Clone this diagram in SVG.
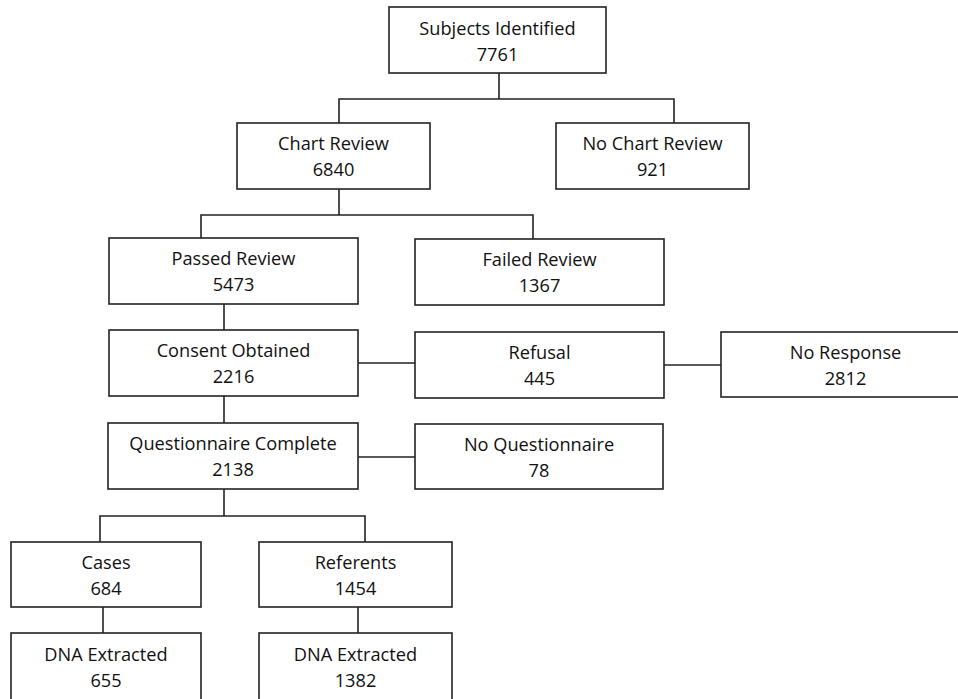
<svg xmlns="http://www.w3.org/2000/svg" width="958" height="699" viewBox="0 0 958 699">
<style>
.box{fill:#fff;stroke:#222;stroke-width:1.6}
.t{font-family:"Open Sans","Liberation Sans",sans-serif;font-size:18.2px;fill:#111;text-anchor:middle}
.c{fill:none;stroke:#222;stroke-width:1.6}
</style>
<rect width="958" height="699" fill="#fff"/>
<g id="connectors">
<path class="c" d="M499,73V99M339,123V99H674V123"/>
<path class="c" d="M339,189V215M201,238V215H533V239"/>
<path class="c" d="M224,304V330"/>
<path class="c" d="M358,363H415"/>
<path class="c" d="M664,365H721"/>
<path class="c" d="M224,396V423"/>
<path class="c" d="M358,457H415"/>
<path class="c" d="M224,489V516M100,542V516H365V542"/>
<path class="c" d="M103,607V633"/>
<path class="c" d="M358,607V633"/>
</g>
<g id="subjects"><rect class="box" x="389" y="7" width="217" height="66"/><text class="t" x="497.5" y="35">Subjects Identified</text><text class="t" x="497.5" y="61">7761</text></g>
<g id="chart-review"><rect class="box" x="237" y="123" width="193" height="66"/><text class="t" x="333.5" y="150">Chart Review</text><text class="t" x="333.5" y="176">6840</text></g>
<g id="no-chart-review"><rect class="box" x="556" y="123" width="193" height="66"/><text class="t" x="652.5" y="150">No Chart Review</text><text class="t" x="652.5" y="176">921</text></g>
<g id="passed-review"><rect class="box" x="109" y="238" width="249" height="66"/><text class="t" x="233.5" y="265">Passed Review</text><text class="t" x="233.5" y="291">5473</text></g>
<g id="failed-review"><rect class="box" x="415" y="239" width="249" height="66"/><text class="t" x="539.5" y="266">Failed Review</text><text class="t" x="539.5" y="292">1367</text></g>
<g id="consent"><rect class="box" x="109" y="330" width="249" height="66"/><text class="t" x="233.5" y="357">Consent Obtained</text><text class="t" x="233.5" y="383">2216</text></g>
<g id="refusal"><rect class="box" x="415" y="332" width="249" height="66"/><text class="t" x="539.5" y="359">Refusal</text><text class="t" x="539.5" y="385">445</text></g>
<g id="no-response"><rect class="box" x="721" y="332" width="249" height="65"/><text class="t" x="845.5" y="359">No Response</text><text class="t" x="845.5" y="385">2812</text></g>
<g id="questionnaire"><rect class="box" x="108" y="423" width="250" height="66"/><text class="t" x="233" y="450">Questionnaire Complete</text><text class="t" x="233" y="476">2138</text></g>
<g id="no-questionnaire"><rect class="box" x="415" y="424" width="248" height="65"/><text class="t" x="539" y="451">No Questionnaire</text><text class="t" x="539" y="477">78</text></g>
<g id="cases"><rect class="box" x="11" y="542" width="190" height="65"/><text class="t" x="106" y="569">Cases</text><text class="t" x="106" y="595">684</text></g>
<g id="referents"><rect class="box" x="259" y="542" width="193" height="65"/><text class="t" x="355.5" y="569">Referents</text><text class="t" x="355.5" y="595">1454</text></g>
<g id="dna-cases"><rect class="box" x="11" y="633" width="190" height="70"/><text class="t" x="106" y="661">DNA Extracted</text><text class="t" x="106" y="687">655</text></g>
<g id="dna-referents"><rect class="box" x="259" y="633" width="193" height="70"/><text class="t" x="355.5" y="661">DNA Extracted</text><text class="t" x="355.5" y="687">1382</text></g>
</svg>
